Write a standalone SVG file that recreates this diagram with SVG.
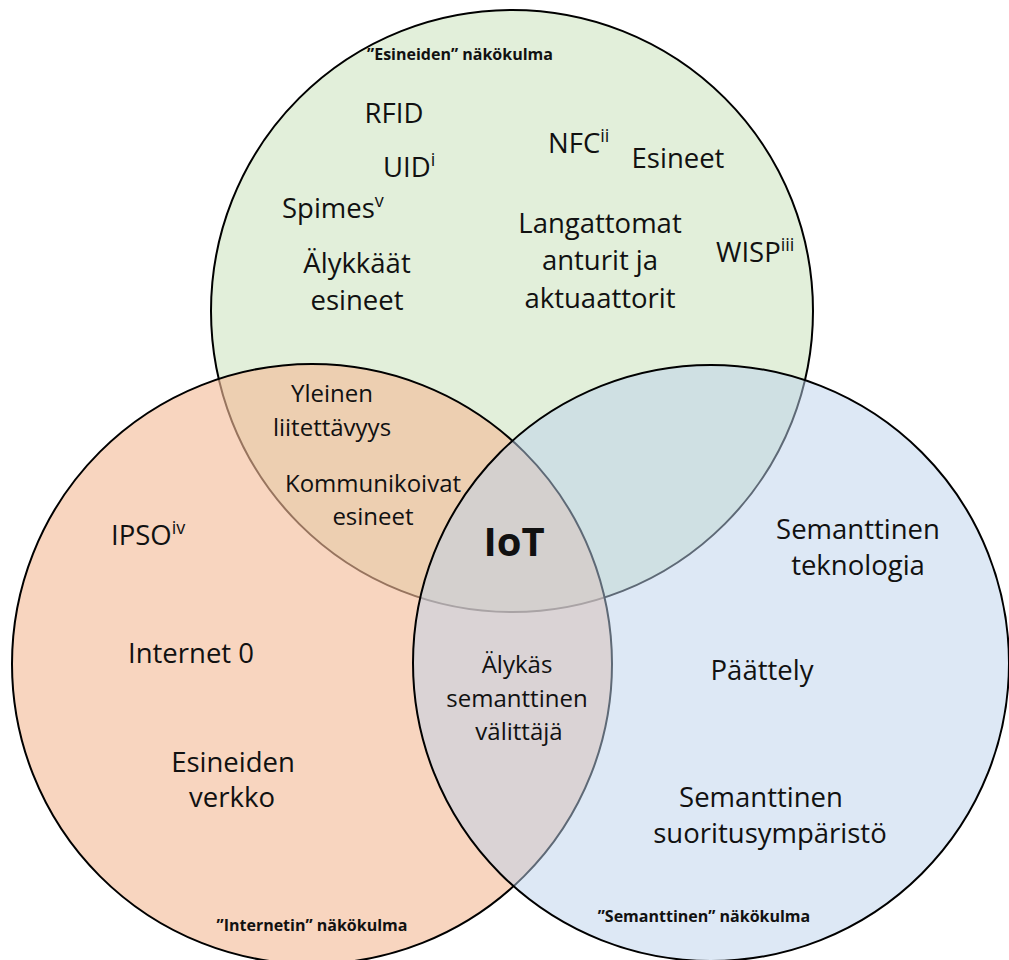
<svg xmlns="http://www.w3.org/2000/svg" width="1009" height="960" viewBox="0 0 1009 960">
<style>
.t{font-family:"Open Sans","Noto Sans",sans-serif;font-size:27.5px;fill:#111;text-anchor:middle}
.s{font-family:"Open Sans","Noto Sans",sans-serif;font-size:24px;fill:#111;text-anchor:middle}
.l{text-anchor:start}
.b{font-family:"Open Sans","Noto Sans",sans-serif;font-size:16px;font-weight:bold;fill:#111;text-anchor:middle}
.sup{font-size:18px}
.c{stroke:#000;stroke-width:2}
</style>
<rect width="1009" height="960" fill="#fff"/>
<g id="circles">
<circle id="things" class="c" cx="512" cy="311" r="301" fill="#e2efda"/>
<circle id="internet" class="c" cx="312" cy="664" r="300" fill="rgb(244,187,152)" fill-opacity="0.62"/>
<circle id="semantic" class="c" cx="711" cy="663" r="298" fill="rgb(187,209,235)" fill-opacity="0.5"/>
</g>
<g id="label-things">
<text class="b" x="460" y="60">”Esineiden” näkökulma</text>
<text class="t" x="394" y="123">RFID</text>
<text class="t l" x="383" y="177">UID<tspan class="sup" dy="-11">i</tspan></text>
<text class="t l" x="548" y="153">NFC<tspan class="sup" dy="-11">ii</tspan></text>
<text class="t" x="678" y="168">Esineet</text>
<text class="t l" x="282" y="218">Spimes<tspan class="sup" dy="-11">v</tspan></text>
<text class="t" x="357" y="273">Älykkäät</text>
<text class="t" x="357" y="310">esineet</text>
<text class="t" x="600" y="233">Langattomat</text>
<text class="t" x="600" y="270">anturit ja</text>
<text class="t" x="600" y="308">aktuaattorit</text>
<text class="t l" x="716" y="262">WISP<tspan class="sup" dy="-11">iii</tspan></text>
</g>
<g id="label-things-internet">
<text class="s" x="332" y="402">Yleinen</text>
<text class="s" x="332" y="436">liitettävyys</text>
<text class="s" x="373" y="492">Kommunikoivat</text>
<text class="s" x="373" y="525">esineet</text>
</g>
<g id="label-iot">
<text x="514" y="556" font-family="Open Sans, Noto Sans, sans-serif" font-size="40" font-weight="bold" fill="#111" text-anchor="middle">IoT</text>
</g>
<g id="label-internet">
<text class="t l" x="111" y="545">IPSO<tspan class="sup" dy="-11">iv</tspan></text>
<text class="t" x="191" y="663">Internet 0</text>
<text class="t" x="233" y="772">Esineiden</text>
<text class="t" x="232" y="807">verkko</text>
<text class="b" x="312" y="931">”Internetin” näkökulma</text>
</g>
<g id="label-internet-semantic">
<text class="s" x="517" y="673">Älykäs</text>
<text class="s" x="517" y="707">semanttinen</text>
<text class="s" x="519" y="740">välittäjä</text>
</g>
<g id="label-semantic">
<text class="t" x="858" y="539">Semanttinen</text>
<text class="t" x="858" y="575">teknologia</text>
<text class="t" x="762" y="680">Päättely</text>
<text class="t" x="761" y="807">Semanttinen</text>
<text class="t" x="770" y="843">suoritusympäristö</text>
<text class="b" x="704" y="922">”Semanttinen” näkökulma</text>
</g>
<g id="connectors"></g>
</svg>
